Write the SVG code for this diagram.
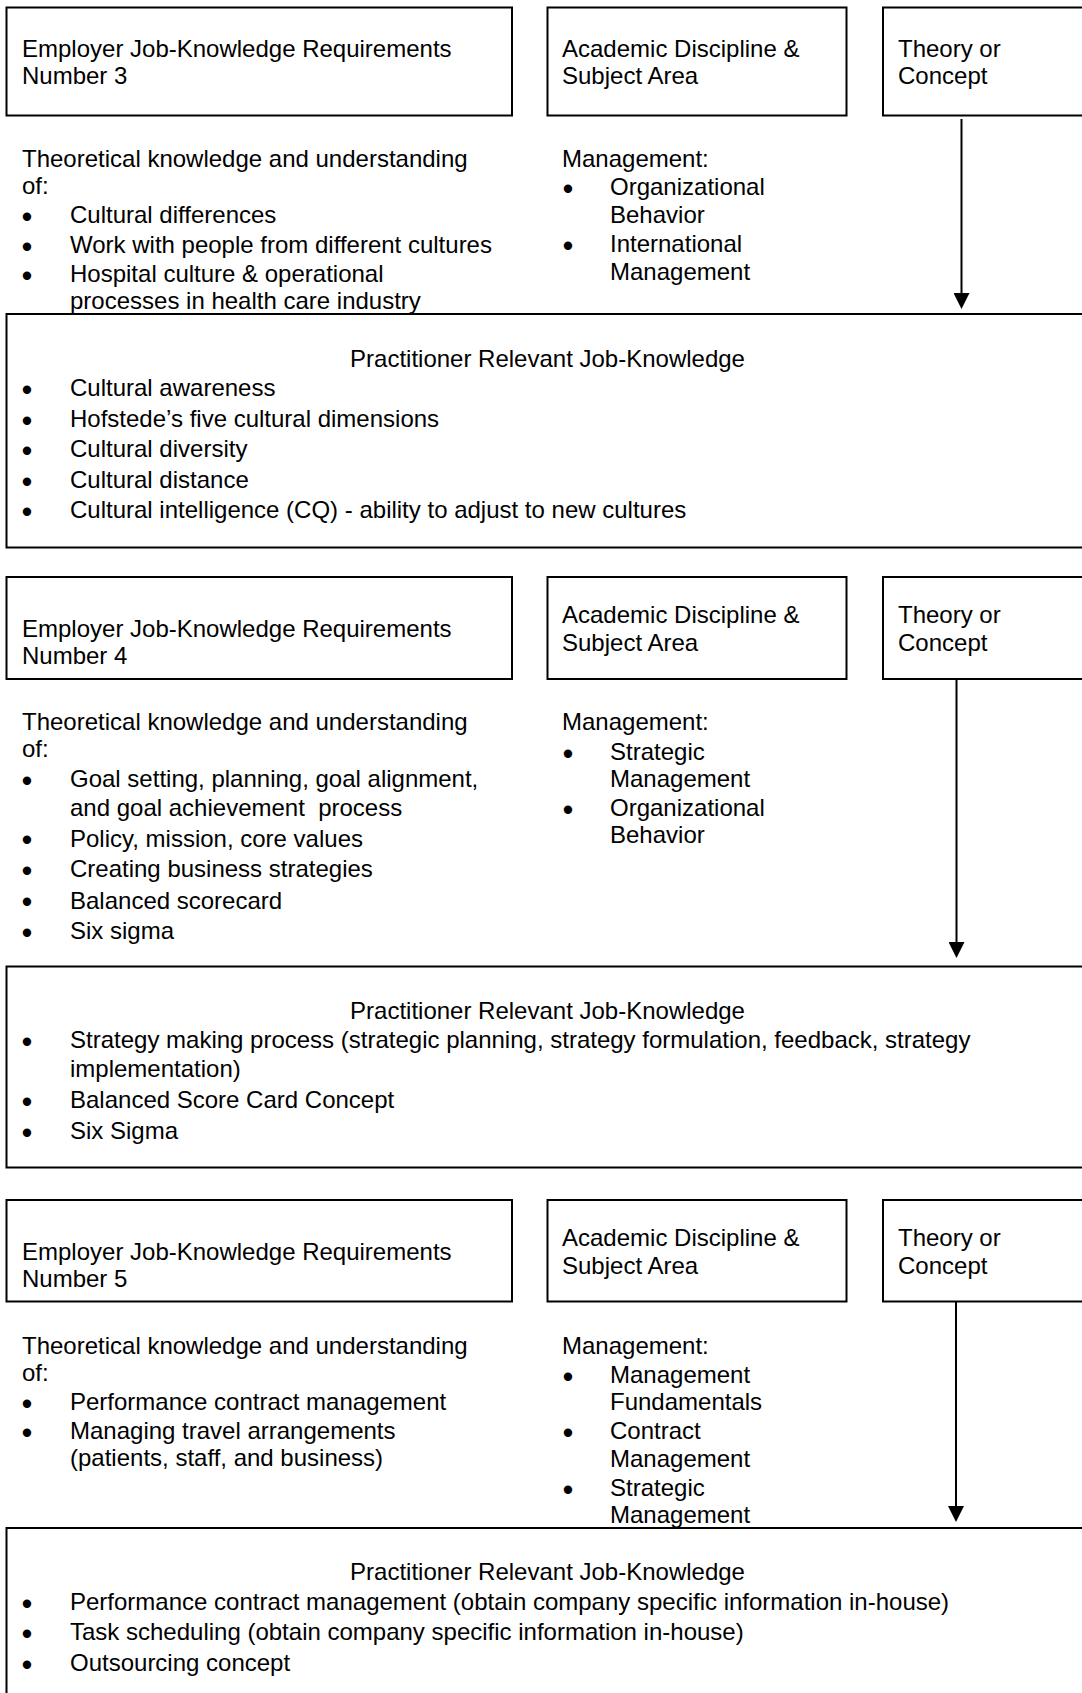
<svg xmlns="http://www.w3.org/2000/svg" width="1082" height="1693" viewBox="0 0 1082 1693">
<style>
.box{fill:none;stroke:#000;stroke-width:2}
text{font-family:"Liberation Sans",Arial,sans-serif;font-size:24px;fill:#000}
.b{text-anchor:middle;stroke:#000;stroke-width:1.8}
.c{text-anchor:middle}
.con{stroke:#000;stroke-width:2;fill:none}
</style>
<defs>
<marker id="ah" viewBox="0 0 16 16" refX="0" refY="8" markerWidth="16" markerHeight="16" markerUnits="userSpaceOnUse" orient="auto">
<path d="M0,0 L16,8 L0,16 z" fill="#000"/>
</marker>
</defs>
<rect width="1082" height="1693" fill="#fff"/>

<!-- Row 1 -->
<g id="emp3">
<rect class="box" x="6.5" y="7.5" width="505.5" height="108"/>
<text x="22" y="57">Employer Job-Knowledge Requirements</text>
<text x="22" y="84">Number 3</text>
</g>
<g id="acad3">
<rect class="box" x="547.5" y="7.5" width="299" height="108"/>
<text x="562" y="57">Academic Discipline &amp;</text>
<text x="562" y="84">Subject Area</text>
</g>
<g id="theory3">
<rect class="box" x="883" y="7.5" width="210" height="108"/>
<text x="898" y="57">Theory or</text>
<text x="898" y="84">Concept</text>
</g>
<g id="req3">
<text x="22" y="167">Theoretical knowledge and understanding</text>
<text x="22" y="194">of:</text>
<text class="b" x="27" y="224.5">•</text><text x="70" y="223">Cultural differences</text>
<text class="b" x="27" y="254.5">•</text><text x="70" y="253">Work with people from different cultures</text>
<text class="b" x="27" y="283.5">•</text><text x="70" y="282">Hospital culture &amp; operational</text>
<text x="70" y="309">processes in health care industry</text>
</g>
<g id="subj3">
<text x="562" y="167">Management:</text>
<text class="b" x="568" y="196.5">•</text><text x="610" y="195">Organizational</text>
<text x="610" y="223">Behavior</text>
<text class="b" x="568" y="253.5">•</text><text x="610" y="252">International</text>
<text x="610" y="280">Management</text>
</g>
<g id="prac3">
<rect class="box" x="6.5" y="314" width="1090" height="233.5"/>
<text class="c" x="547.5" y="367">Practitioner Relevant Job-Knowledge</text>
<text class="b" x="27" y="397.5">•</text><text x="70" y="396">Cultural awareness</text>
<text class="b" x="27" y="428.5">•</text><text x="70" y="427">Hofstede’s five cultural dimensions</text>
<text class="b" x="27" y="458.5">•</text><text x="70" y="457">Cultural diversity</text>
<text class="b" x="27" y="489.5">•</text><text x="70" y="488">Cultural distance</text>
<text class="b" x="27" y="519.5">•</text><text x="70" y="518">Cultural intelligence (CQ) - ability to adjust to new cultures</text>
</g>

<!-- Row 2 -->
<g id="emp4">
<rect class="box" x="6.5" y="577" width="505.5" height="102"/>
<text x="22" y="637">Employer Job-Knowledge Requirements</text>
<text x="22" y="664">Number 4</text>
</g>
<g id="acad4">
<rect class="box" x="547.5" y="577" width="299" height="102"/>
<text x="562" y="623">Academic Discipline &amp;</text>
<text x="562" y="651">Subject Area</text>
</g>
<g id="theory4">
<rect class="box" x="883" y="577" width="210" height="102"/>
<text x="898" y="623">Theory or</text>
<text x="898" y="651">Concept</text>
</g>
<g id="req4">
<text x="22" y="730">Theoretical knowledge and understanding</text>
<text x="22" y="757">of:</text>
<text class="b" x="27" y="788.5">•</text><text x="70" y="787">Goal setting, planning, goal alignment,</text>
<text x="70" y="816" xml:space="preserve">and goal achievement  process</text>
<text class="b" x="27" y="848">•</text><text x="70" y="846.5">Policy, mission, core values</text>
<text class="b" x="27" y="878.5">•</text><text x="70" y="877">Creating business strategies</text>
<text class="b" x="27" y="910">•</text><text x="70" y="908.5">Balanced scorecard</text>
<text class="b" x="27" y="940.5">•</text><text x="70" y="939">Six sigma</text>
</g>
<g id="subj4">
<text x="562" y="730">Management:</text>
<text class="b" x="568" y="761.5">•</text><text x="610" y="760">Strategic</text>
<text x="610" y="787">Management</text>
<text class="b" x="568" y="817.5">•</text><text x="610" y="816">Organizational</text>
<text x="610" y="843">Behavior</text>
</g>
<g id="prac4">
<rect class="box" x="6.5" y="966.5" width="1090" height="201"/>
<text class="c" x="547.5" y="1019">Practitioner Relevant Job-Knowledge</text>
<text class="b" x="27" y="1049.5">•</text><text x="70" y="1048">Strategy making process (strategic planning, strategy formulation, feedback, strategy</text>
<text x="70" y="1076.5">implementation)</text>
<text class="b" x="27" y="1109.5">•</text><text x="70" y="1108">Balanced Score Card Concept</text>
<text class="b" x="27" y="1140.5">•</text><text x="70" y="1139">Six Sigma</text>
</g>

<!-- Row 3 -->
<g id="emp5">
<rect class="box" x="6.5" y="1200" width="505.5" height="101.5"/>
<text x="22" y="1260">Employer Job-Knowledge Requirements</text>
<text x="22" y="1287">Number 5</text>
</g>
<g id="acad5">
<rect class="box" x="547.5" y="1200" width="299" height="101.5"/>
<text x="562" y="1246">Academic Discipline &amp;</text>
<text x="562" y="1274">Subject Area</text>
</g>
<g id="theory5">
<rect class="box" x="883" y="1200" width="210" height="101.5"/>
<text x="898" y="1246">Theory or</text>
<text x="898" y="1274">Concept</text>
</g>
<g id="req5">
<text x="22" y="1354">Theoretical knowledge and understanding</text>
<text x="22" y="1381">of:</text>
<text class="b" x="27" y="1411.5">•</text><text x="70" y="1410">Performance contract management</text>
<text class="b" x="27" y="1440.5">•</text><text x="70" y="1439">Managing travel arrangements</text>
<text x="70" y="1466">(patients, staff, and business)</text>
</g>
<g id="subj5">
<text x="562" y="1354">Management:</text>
<text class="b" x="568" y="1384.5">•</text><text x="610" y="1383">Management</text>
<text x="610" y="1410">Fundamentals</text>
<text class="b" x="568" y="1440.5">•</text><text x="610" y="1439">Contract</text>
<text x="610" y="1467">Management</text>
<text class="b" x="568" y="1497.5">•</text><text x="610" y="1496">Strategic</text>
<text x="610" y="1523">Management</text>
</g>
<g id="prac5">
<rect class="box" x="6.5" y="1528" width="1090" height="200"/>
<text class="c" x="547.5" y="1580">Practitioner Relevant Job-Knowledge</text>
<text class="b" x="27" y="1611.5">•</text><text x="70" y="1610">Performance contract management (obtain company specific information in-house)</text>
<text class="b" x="27" y="1641.5">•</text><text x="70" y="1640">Task scheduling (obtain company specific information in-house)</text>
<text class="b" x="27" y="1672.5">•</text><text x="70" y="1671">Outsourcing concept</text>
</g>

<g id="connectors">
<line class="con" x1="961.5" y1="119" x2="961.5" y2="293" marker-end="url(#ah)"/>
<line class="con" x1="956.5" y1="679" x2="956.5" y2="942" marker-end="url(#ah)"/>
<line class="con" x1="956" y1="1301.5" x2="956" y2="1506" marker-end="url(#ah)"/>
</g>
</svg>
